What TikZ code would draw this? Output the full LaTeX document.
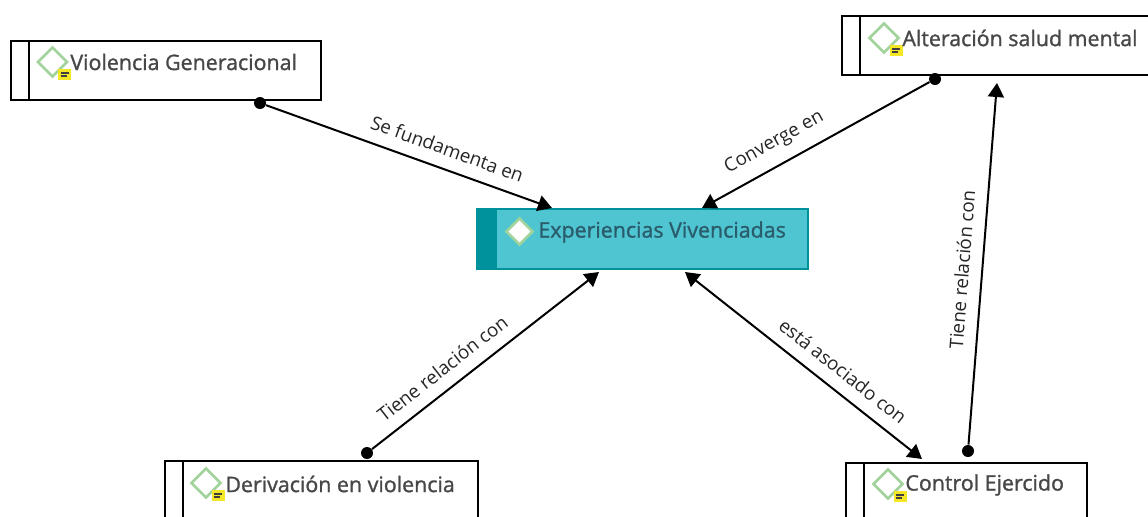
\documentclass[tikz,border=0pt]{standalone}
\usepackage{fontspec}
\setmainfont{Open Sans}
\newfontfamily\conceptfont[FakeBold=1.2]{Open Sans}
\usetikzlibrary{arrows.meta,shapes.geometric}
\definecolor{tealfill}{HTML}{4EC5D1}
\definecolor{tealband}{HTML}{00929C}
\definecolor{tealtext}{HTML}{2A5C6C}
\definecolor{icongreen}{HTML}{A3D39C}
\definecolor{noteyellow}{HTML}{F6E726}
\tikzset{
	conceptbox/.style={draw=black, line width=1pt, fill=white, anchor=north west, minimum height=29.5pt,
		path picture={\draw[line width=1pt] ([xshift=9pt]path picture bounding box.north west) -- ([xshift=9pt]path picture bounding box.south west);}},
	centerbox/.style={draw=tealband, line width=1pt, fill=tealfill, anchor=north west, minimum height=30pt,
		path picture={\fill[tealband] (path picture bounding box.north west) rectangle ([xshift=10pt]path picture bounding box.south west);}},
	concepttext/.style={anchor=west, inner sep=0pt, text=black!72, font=\conceptfont\fontsize{10.7}{12}\selectfont},
	linktext/.style={sloped, above, inner sep=6pt, font=\fontsize{9.4}{10}\selectfont, text=black!85},
	icondiamond/.style={diamond, draw=icongreen, line width=1.3pt, inner sep=0pt, minimum size=15pt},
	noteicon/.style={fill=noteyellow, inner sep=0pt, minimum width=6.5pt, minimum height=5.5pt},
	dotnode/.style={circle, fill=black, inner sep=0pt, minimum size=6pt},
	link/.style={line width=1pt, -{Triangle[length=7pt,width=8pt]}},
	twolink/.style={line width=1pt, {Triangle[length=7pt,width=8pt]}-{Triangle[length=7pt,width=8pt]}}
}
\begin{document}
\begin{tikzpicture}[x=0.5pt, y=-0.5pt]
	\path[use as bounding box, clip] (0,0) rectangle (1148,516);
	\fill[white] (0,0) rectangle (1148,516);
	% boxes
	\node[conceptbox, minimum width=155pt] (violencia) at (10,40) {};
	\node[conceptbox, minimum width=170pt] (alteracion) at (841,15) {};
	\node[conceptbox, minimum width=156.5pt, minimum height=50pt] (derivacion) at (164,460) {};
	\node[conceptbox, minimum width=120.5pt, minimum height=50pt] (control) at (845,462) {};
	\node[centerbox, minimum width=165.5pt] (experiencias) at (476,208) {};
	% icons
	\foreach \name/\x/\y in {violencia/52.5/62, alteracion/884/38, derivacion/206/483, control/888/484}{
		\node[icondiamond] (icon\name) at (\x,\y) {};
		\node[noteicon] (note\name) at ([xshift=6pt,yshift=-6.2pt]icon\name.center) {};
		\draw[line width=0.7pt, black!75] ([xshift=-2pt,yshift=0.8pt]note\name.center) -- ([xshift=2pt,yshift=0.8pt]note\name.center);
		\draw[line width=0.7pt, black!75] ([xshift=-2pt,yshift=-0.8pt]note\name.center) -- ([xshift=1pt,yshift=-0.8pt]note\name.center);
	}
	\node[icondiamond, fill=white, minimum size=13.5pt] (iconexperiencias) at (519.5,231.5) {};
	% texts
	\node[concepttext] (textviolencia) at (70,62) {Violencia Generacional};
	\node[concepttext] (textalteracion) at (902,38) {Alteración salud mental};
	\node[concepttext] (textderivacion) at (225,484) {Derivación en violencia};
	\node[concepttext] (textcontrol) at (905,485) {Control Ejercido};
	\node[concepttext, text=tealtext] (textexperiencias) at (538,232) {Experiencias Vivenciadas};
	% connectors
	\node[dotnode] (dotviolencia) at (260,103) {};
	\node[dotnode] (dotalteracion) at (935,79) {};
	\node[dotnode] (dotderivacion) at (367,453) {};
	\node[dotnode] (dotcontrol) at (968,451) {};
	\draw[link] (dotviolencia) -- ([xshift=38pt]experiencias.north west) node[linktext, pos=0.61] (labelviolencia) {Se fundamenta en};
	\draw[link] (dotalteracion) -- ([xshift=113pt]experiencias.north west) node[linktext, pos=0.635] (labelalteracion) {Converge en};
	\draw[link] (dotderivacion) -- ([xshift=61.5pt,yshift=-1pt]experiencias.south west) node[linktext, pos=0.365] (labelderivacion) {Tiene relación con};
	\draw[twolink] ([xshift=104.5pt,yshift=-1pt]experiencias.south west) -- ([xshift=38.5pt,yshift=1.5pt]control.north west) node[linktext, pos=0.614] (labelcontrol) {está asociado con};
	\draw[link] (dotcontrol) -- ([xshift=78pt,yshift=-3.5pt]alteracion.south west) node[linktext, pos=0.48] (labelsalud) {Tiene relación con};
\end{tikzpicture}
\end{document}
